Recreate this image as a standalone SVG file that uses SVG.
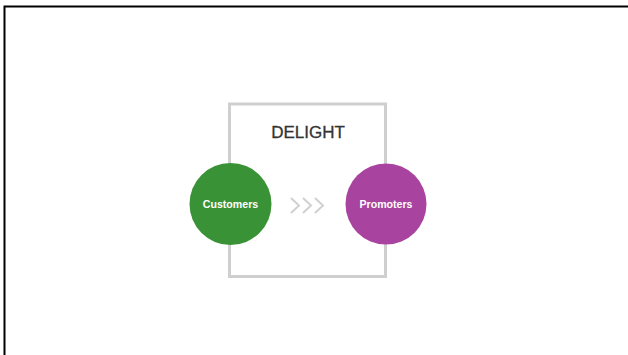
<svg xmlns="http://www.w3.org/2000/svg" width="628" height="355" viewBox="0 0 628 355">
<style>
.lbl{font-family:"Liberation Sans",Arial,sans-serif;font-weight:bold;font-size:10.6px;fill:#fff;text-anchor:middle}
.chev{fill:none;stroke:#d0d0d0;stroke-width:2}
</style>
<rect width="628" height="355" fill="#fff"/>
<path d="M4.5 355 V6.5 H628" fill="none" stroke="#000" stroke-width="2"/>
<g id="delight">
<rect x="229.5" y="104" width="156" height="172.5" fill="none" stroke="#cfcfcf" stroke-width="3"/>
<text x="308" y="137.5" font-family="'Liberation Sans',Arial,sans-serif" font-size="17" fill="#333" stroke="#333" stroke-width="0.3" text-anchor="middle">DELIGHT</text>
</g>
<g id="connectors">
<path class="chev" d="M291 198 L299 205.5 L291 213"/>
<path class="chev" d="M303 198 L311 205.5 L303 213"/>
<path class="chev" d="M315 198 L323 205.5 L315 213"/>
</g>
<g id="customers">
<circle cx="230.5" cy="204" r="41" fill="#3a9236"/>
<text class="lbl" x="230.5" y="207.5">Customers</text>
</g>
<g id="promoters">
<circle cx="386" cy="204" r="40.5" fill="#a8449f"/>
<text class="lbl" x="386" y="207.5">Promoters</text>
</g>
</svg>
